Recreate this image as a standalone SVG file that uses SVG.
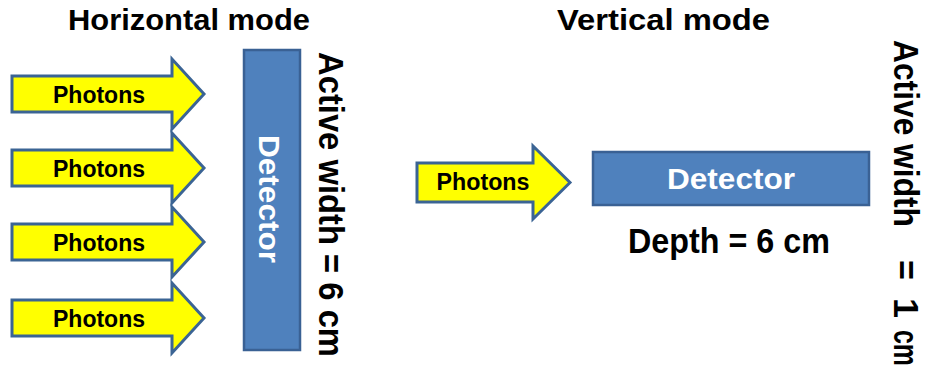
<svg xmlns="http://www.w3.org/2000/svg" xmlns:xlink="http://www.w3.org/1999/xlink" width="925" height="380" viewBox="0 0 925 380">
  <style>
    .title { font-family: "Liberation Sans", Arial, sans-serif; font-weight: bold; font-size: 30px; fill: #000; }
    .label { font-family: "Liberation Sans", Arial, sans-serif; font-weight: bold; font-size: 35px; fill: #000; }
    .photon { font-family: "Liberation Sans", Arial, sans-serif; font-weight: bold; font-size: 23px; fill: #000; text-anchor: middle; }
    .det-text { font-family: "Liberation Sans", Arial, sans-serif; font-weight: bold; font-size: 30px; fill: #fff; text-anchor: middle; }
    .arrow { fill: #ffff00; stroke: #3b6494; stroke-width: 3; stroke-linejoin: miter; }
    .detector { fill: #4f81bd; stroke: #3a6194; stroke-width: 2.5; }
  </style>
  <defs>
    <!-- block arrow, left edge at x=0, centred on y=0 -->
    <path id="photon-arrow" d="M0,-18 H160 V-35 L192,0 L160,35 V18 H0 Z"/>
  </defs>

  <rect width="925" height="380" fill="#fff"/>

  <!-- headings -->
  <text id="title-horizontal" class="title" x="68" y="30" textLength="242" lengthAdjust="spacingAndGlyphs">Horizontal mode</text>
  <text id="title-vertical" class="title" x="557" y="30" textLength="213" lengthAdjust="spacingAndGlyphs">Vertical mode</text>

  <!-- horizontal mode: four photon beams hitting a tall detector -->
  <g id="photons-h1">
    <use xlink:href="#photon-arrow" class="arrow" transform="translate(12,94)"/>
    <text class="photon" x="99" y="103" textLength="92" lengthAdjust="spacingAndGlyphs">Photons</text>
  </g>
  <g id="photons-h2">
    <use xlink:href="#photon-arrow" class="arrow" transform="translate(12,168)"/>
    <text class="photon" x="99" y="177" textLength="92" lengthAdjust="spacingAndGlyphs">Photons</text>
  </g>
  <g id="photons-h3">
    <use xlink:href="#photon-arrow" class="arrow" transform="translate(12,242)"/>
    <text class="photon" x="99" y="251" textLength="92" lengthAdjust="spacingAndGlyphs">Photons</text>
  </g>
  <g id="photons-h4">
    <use xlink:href="#photon-arrow" class="arrow" transform="translate(12,318)"/>
    <text class="photon" x="99" y="327" textLength="92" lengthAdjust="spacingAndGlyphs">Photons</text>
  </g>

  <g id="detector-h">
    <rect class="detector" x="244" y="50" width="56" height="300"/>
    <text class="det-text" transform="translate(259,199) rotate(90)" textLength="128" lengthAdjust="spacingAndGlyphs">Detector</text>
  </g>

  <g id="width-h">
    <text class="label" transform="translate(319,52) rotate(90)" textLength="305" lengthAdjust="spacingAndGlyphs">Active width = 6 cm</text>
  </g>

  <!-- vertical mode: one beam entering the detector end-on -->
  <g id="photons-v">
    <path class="arrow" d="M417,163 H533 V146 L570,182.5 L533,219 V202 H417 Z"/>
    <text class="photon" x="483" y="190" textLength="93" lengthAdjust="spacingAndGlyphs">Photons</text>
  </g>

  <g id="detector-v">
    <rect class="detector" x="593" y="152" width="276" height="53"/>
    <text class="det-text" x="731" y="189" textLength="128" lengthAdjust="spacingAndGlyphs">Detector</text>
  </g>

  <g id="depth-v">
    <text class="label" x="628" y="253" font-size="32" textLength="202" lengthAdjust="spacingAndGlyphs">Depth = 6 cm</text>
  </g>

  <g id="width-v">
    <text class="label" font-size="32" transform="translate(894,40) rotate(90)"><tspan x="0" textLength="187" lengthAdjust="spacingAndGlyphs">Active width</tspan><tspan x="220" textLength="20" lengthAdjust="spacingAndGlyphs">=</tspan><tspan x="258" textLength="20" lengthAdjust="spacingAndGlyphs">1</tspan><tspan x="290" textLength="36" lengthAdjust="spacingAndGlyphs">cm</tspan></text>
  </g>
</svg>
